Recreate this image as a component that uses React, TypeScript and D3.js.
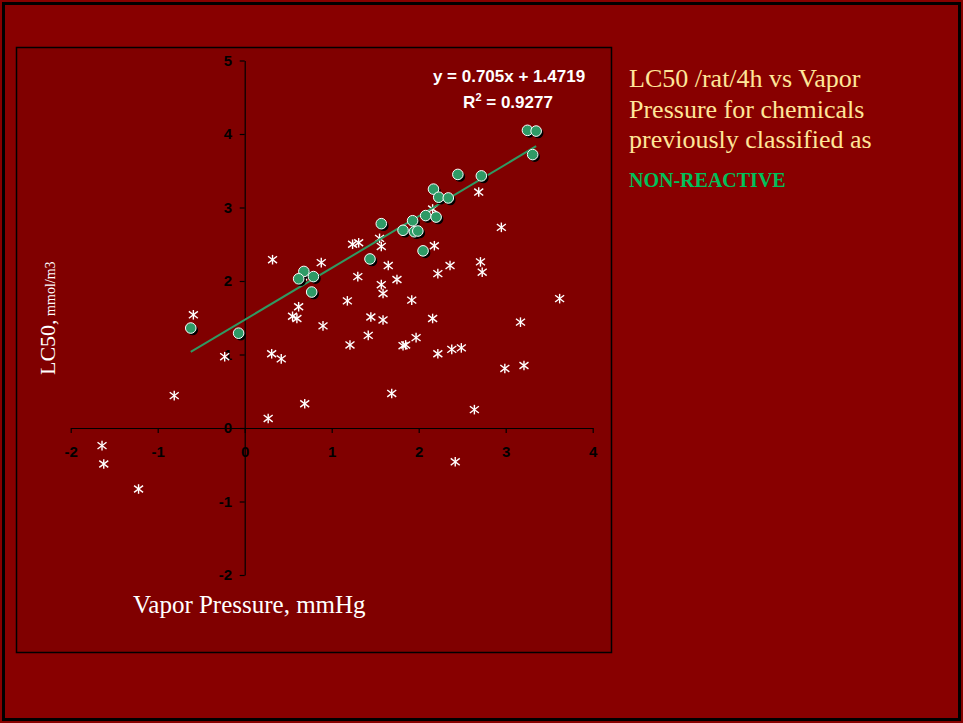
import * as d3 from 'd3';
import { useEffect, useRef } from 'react';

// chemicals previously classified as non-reactive (green circles)
const nonReactiveVp = [3.25, 3.35, 3.31, 2.45, 2.72, 2.17, 2.23, 2.34, 2.08, 2.2, 1.93, 1.57, 1.82, 1.95, 1.99, 2.05, 1.44, 0.68, 0.62, 0.79, 0.77, -0.62, -0.07];
const nonReactiveLc50 = [4.05, 4.04, 3.72, 3.45, 3.43, 3.25, 3.14, 3.13, 2.89, 2.87, 2.82, 2.78, 2.69, 2.67, 2.68, 2.41, 2.3, 2.13, 2.03, 2.06, 1.85, 1.36, 1.29];

// all other chemicals (asterisks)
const otherVp = [
    0.32, 0.88, 1.24, 1.31, 1.57, 1.55, 1.65, 1.3, 0.71, 1.57, 1.59, 1.18, 0.62, 0.55, 0.6, 1.45, 1.59, 0.9, 1.42, 1.21,
    -0.59, -0.23, 0.31, 0.42, -0.81, 0.69, 0.27, 1.69, 2.18, 2.36, 2.71, 2.73, 2.22, 1.75, 1.92, 3.62, 2.16, 3.17, 1.97,
    1.85, 1.82, 2.22, 2.38, 2.49, 2.99, 3.21, 2.64, 2.69, 2.95, 2.16, -1.64, -1.62, -1.22, 2.42,
];
const otherLc50 = [
    2.29, 2.25, 2.5, 2.52, 2.47, 2.58, 2.21, 2.06, 2.07, 1.95, 1.83, 1.73, 1.65, 1.52, 1.49, 1.51, 1.47, 1.39, 1.26, 1.13,
    1.54, 0.97, 1.01, 0.94, 0.44, 0.33, 0.13, 0.47, 2.48, 2.21, 2.26, 2.12, 2.1, 2.02, 1.74, 1.76, 1.49, 1.44, 1.23,
    1.13, 1.12, 1.01, 1.07, 1.09, 0.81, 0.85, 0.25, 3.21, 2.73, 2.98, -0.24, -0.49, -0.83, -0.46,
];

const xTicks = [-2, -1, 0, 1, 2, 3, 4];
const yTicks = [-2, -1, 0, 1, 2, 3, 4, 5];

const SLOPE = 0.705;
const INTERCEPT = 1.4719;
const titleLines = ['LC50 /rat/4h vs Vapor', 'Pressure for chemicals', 'previously classified as'];

const W = 963;
const H = 723;

const x = d3.scaleLinear().domain([-2, 4]).range([70.7, 592.7]);
const y = d3.scaleLinear().domain([-2, 5]).range([575, 60.5]);

export default function App() {
    const xAxisRef = useRef<SVGGElement>(null);
    const yAxisRef = useRef<SVGGElement>(null);

    useEffect(() => {
        const style = (g: d3.Selection<SVGGElement, unknown, null, undefined>) => {
            g.select('.domain').attr('stroke', '#000').attr('stroke-width', 1.2);
            g.selectAll('.tick line').attr('stroke', '#000').attr('stroke-width', 1.2);
            g.selectAll('.tick text')
                .attr('fill', '#000')
                .attr('font-family', '"Liberation Sans", Arial, sans-serif')
                .attr('font-weight', 'bold')
                .attr('font-size', 15);
        };
        if (xAxisRef.current)
            d3.select(xAxisRef.current)
                .call(d3.axisBottom(x).tickValues(xTicks).tickSizeInner(5).tickSizeOuter(0).tickPadding(13).tickFormat(d3.format('d')))
                .call(style)
                .call((g) => g.selectAll('.tick text').text((d: any) => String(d)));
        if (yAxisRef.current)
            d3.select(yAxisRef.current)
                .call(d3.axisLeft(y).tickValues(yTicks).tickSizeInner(5).tickSizeOuter(0).tickPadding(7.5).tickFormat(d3.format('d')))
                .call(style)
                .call((g) => g.selectAll('.tick text').text((d: any) => String(d)));
    }, []);

    const others = otherVp.map((v, i) => [v, otherLc50[i]]);
    const greens = nonReactiveVp.map((v, i) => [v, nonReactiveLc50[i]]);
    const [x0, x1] = d3.extent(nonReactiveVp) as [number, number];
    const fit = d3.line<number>()
        .x((d) => x(d))
        .y((d) => y(SLOPE * d + INTERCEPT))([x0, x1]);

    return (
        <div>
            <style>{'body{margin:0}'}</style>
            <svg width={W} height={H} viewBox={`0 0 ${W} ${H}`} style={{ display: 'block' }}>
                <rect x={0} y={0} width={W} height={H} fill="#880000" />
                <rect x={3.5} y={3.5} width={956} height={716} fill="none" stroke="#000" strokeWidth={3} />
                <rect x={16.5} y={47.5} width={595} height={605} fill="#800000" stroke="#000" strokeWidth={1.5} />

                <g ref={xAxisRef} transform={`translate(0,${y(0)})`} />
                <g ref={yAxisRef} transform={`translate(${x(0)},0)`} />

                {others.map(([vx, vy], i) => {
                    const cx = x(vx);
                    const cy = y(vy);
                    return (
                        <g key={i} transform={`translate(${cx},${cy})`} stroke="#fff" strokeWidth={1.4}>
                            <line x1={0} y1={-4.8} x2={0} y2={4.8} />
                            <line x1={-4.5} y1={-3.4} x2={4.5} y2={3.4} />
                            <line x1={-4.5} y1={3.4} x2={4.5} y2={-3.4} />
                        </g>
                    );
                })}

                <path d={fit ?? ''} fill="none" stroke="#2f9a62" strokeWidth={2} />

                {greens.map(([vx, vy], i) => (
                    <g key={i}>
                        <circle cx={x(vx) + 2} cy={y(vy) + 2} r={5.3} fill="#000" />
                        <circle cx={x(vx)} cy={y(vy)} r={5.3} fill="#2e9a66" stroke="#fff" strokeWidth={1} />
                    </g>
                ))}

                <g fill="#fff" fontFamily='"Liberation Sans", Arial, sans-serif' fontWeight="bold" fontSize={17} textAnchor="middle">
                    <text x={509} y={82}>
                        y = {SLOPE}x + {INTERCEPT}
                    </text>
                    <text x={508} y={108}>
                        R<tspan fontSize={11} dy={-7}>2</tspan>
                        <tspan dy={7}> = 0.9277</tspan>
                    </text>
                </g>

                <text
                    transform="translate(55,375) rotate(-90)"
                    fill="#fff"
                    fontFamily='"Liberation Serif", "Times New Roman", serif'
                >
                    <tspan fontSize={22}>LC50,</tspan>
                    <tspan fontSize={14}> mmol/m3</tspan>
                </text>
                <text x={133} y={613} fill="#fff" fontFamily='"Liberation Serif", "Times New Roman", serif' fontSize={25}>
                    Vapor Pressure, mmHg
                </text>

                <g fill="#ffe699" fontFamily='"Liberation Serif", "Times New Roman", serif' fontSize={26}>
                    {titleLines.map((t, i) => (
                        <text key={i} x={629} y={87 + i * 30.5}>
                            {t}
                        </text>
                    ))}
                </g>
                <text
                    x={629}
                    y={187}
                    fill="#00c05a"
                    fontFamily='"Liberation Serif", "Times New Roman", serif'
                    fontWeight="bold"
                    fontSize={20}
                >
                    NON-REACTIVE
                </text>
            </svg>
        </div>
    );
}
